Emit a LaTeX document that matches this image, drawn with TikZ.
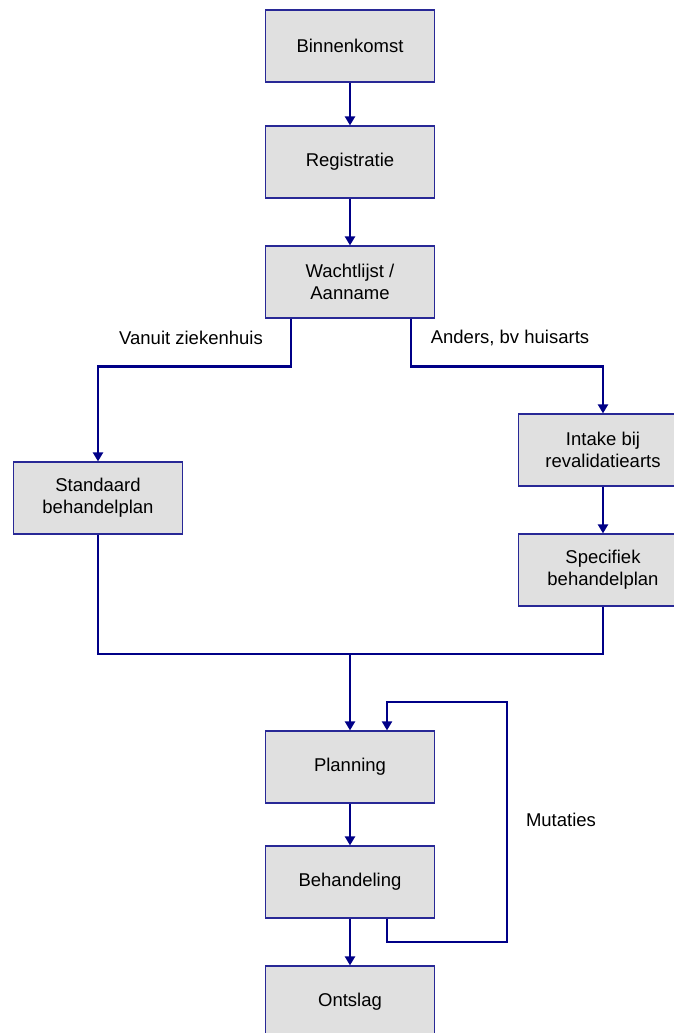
\documentclass[tikz,border=0pt]{standalone}
\usepackage{fontspec}
\setmainfont{Liberation Sans}
\usepackage{tikz}
\usetikzlibrary{arrows.meta,calc}

\definecolor{boxgray}{RGB}{224,224,224}
\definecolor{boxrand}{RGB}{40,40,150}
\definecolor{pijl}{RGB}{0,0,135}

\begin{document}
\begin{tikzpicture}[x=1pt,y=-1pt,
       stap/.style={draw=boxrand,fill=boxgray,line width=1.2pt,minimum width=169pt,
       	minimum height=72pt,inner sep=0pt,align=center,font=\fontsize{18.5}{22}\selectfont},
       pijl/.style={draw=pijl,line width=2.6pt,-{Triangle[length=9pt,width=10pt]}},
       lijn/.style={draw=pijl,line width=2pt},
       tekst/.style={font=\fontsize{18.5}{22}\selectfont}]
       
       \useasboundingbox (0,0) rectangle (673,1033);
       
       %hoofdlijn
       \node[stap] (bin) at (350,46) {Binnenkomst};
       \node[stap] (reg) at (350,162) {Registratie};
       \node[stap] (wacht) at (350,282) {Wachtlijst /\\Aanname};
       
       \node[stap] (std) at (98,498) {Standaard\\behandelplan};
       \node[stap] (intake) at (603,450) {Intake bij\\revalidatiearts};
       \node[stap] (spec) at (603,570) {Specifiek\\behandelplan};
       
       \node[stap] (plan) at (350,767) {Planning};
       \node[stap] (beh) at (350,882) {Behandeling};
       \node[stap] (ont) at (350,1002) {Ontslag};
       
       \node[tekst] (vanuit) at (191,338) {Vanuit ziekenhuis};
       \node[tekst] (anders) at (510,338) {Anders, bv huisarts};
       \node[tekst] (mut) at (561,820) {Mutaties};
       
       \coordinate (samen) at (350,654);
       \coordinate (lusonder) at (507,942);
       \coordinate (lusboven) at (507,702);
       
       \draw[pijl] (bin) -- (reg);
       \draw[pijl] (reg) -- (wacht);
       
       %splitsing
       \draw[pijl] ([xshift=-59pt]wacht.south) -- ++(0,48) -| (std.north);
       \draw[pijl] ([xshift=61pt]wacht.south) -- ++(0,48) -| (intake.north);
       \draw[pijl] (intake) -- (spec);
       
       %samenkomst
       \draw[lijn] (std.south) |- (samen) -| (spec.south);
       \draw[pijl] (samen) -- (samen |- plan.north);
       
       \draw[pijl] (plan) -- (beh);
       \draw[pijl] (beh) -- (ont);
       
       %mutaties
       \draw[lijn,-{Triangle[length=9pt,width=10pt]}] ([xshift=37pt]beh.south) |- (lusonder)
       	-- (lusboven) -| ([xshift=37pt]plan.north);
       
\end{tikzpicture}
\end{document}
